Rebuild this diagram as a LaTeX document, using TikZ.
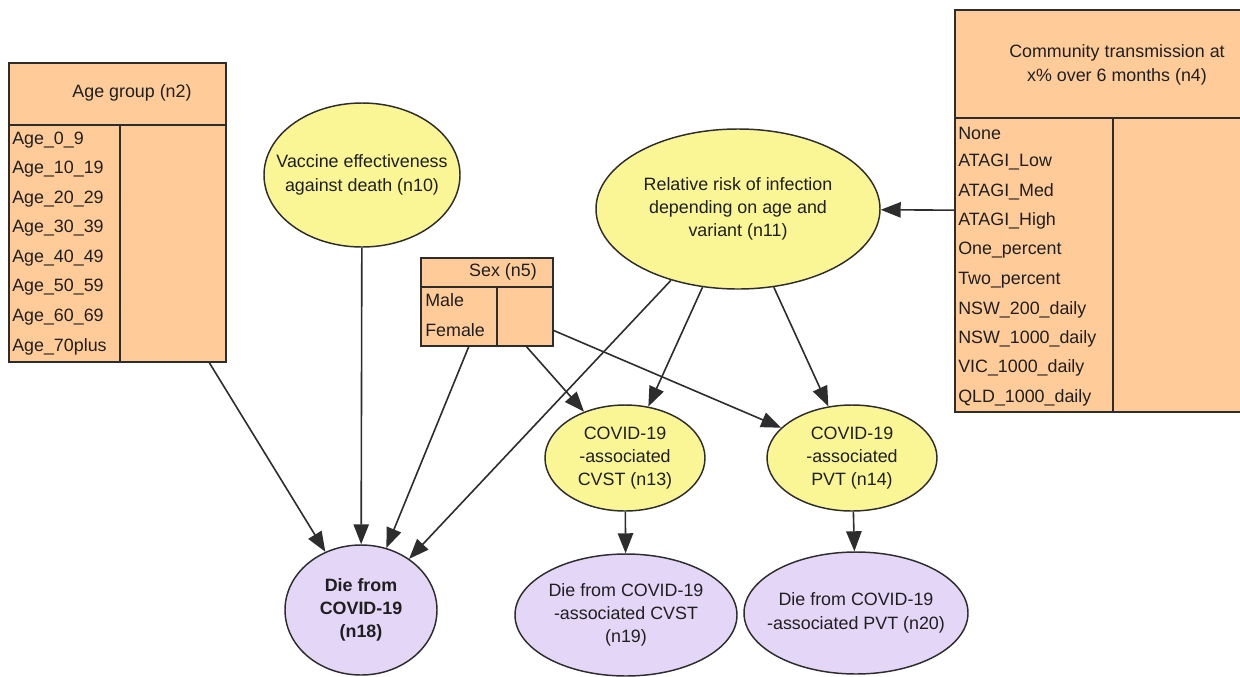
\documentclass[tikz,border=0pt]{standalone}
\usepackage{fontspec}
\setmainfont{Liberation Sans}
\usetikzlibrary{arrows.meta, shapes.geometric, positioning}
\definecolor{boxtan}{RGB}{255,204,153}
\definecolor{nodeyellow}{RGB}{250,246,150}
\definecolor{nodelilac}{RGB}{228,214,246}
\definecolor{edgegray}{RGB}{45,45,45}
\tikzset{
  every node/.style={font=\fontsize{13.4}{17.5}\selectfont, text=black!88},
  tablebox/.style={rectangle, draw=edgegray, line width=1.1pt, fill=boxtan, inner sep=0pt},
  rule/.style={draw=edgegray, line width=1.1pt},
  staterow/.style={anchor=west, inner sep=0pt},
  chance/.style={ellipse, draw=edgegray, line width=1.1pt, fill=nodeyellow, inner sep=0pt},
  outcome/.style={chance, fill=nodelilac},
  link/.style={-{Triangle[length=15pt,width=11.5pt]}, draw=edgegray, line width=1.2pt},
}

\begin{document}
\begin{tikzpicture}[x=0.75pt, y=-0.75pt]
  \useasboundingbox (0,0) rectangle (1240,676);
  \clip (0,0) rectangle (1240,676);
  \fill[white] (0,0) rectangle (1240,676);

  % tables
  \node[tablebox, minimum width=162.75pt, minimum height=224.25pt] (n2) at (117.5,212.5) {};
  \draw[rule] (n2.west |- 0,125) -- (n2.east |- 0,125);
  \draw[rule] (120,125) -- (n2.south -| 120,0);
  \node (n2title) at (132,93) {Age group (n2)};
  \foreach \s [count=\i from 0] in {Age\_0\_9, Age\_10\_19, Age\_20\_29, Age\_30\_39,
      Age\_40\_49, Age\_50\_59, Age\_60\_69, Age\_70plus}
    \node[staterow] (n2s\i) at (12,140+29.5*\i) {\s};

  \node[tablebox, minimum width=236.25pt, minimum height=301.5pt] (n4) at (1112.5,211) {};
  \draw[rule] (n4.west |- 0,118) -- (n4.east |- 0,118);
  \draw[rule] (1113,118) -- (n4.south -| 1113,0);
  \node[align=center] (n4title) at (1117,65) {Community transmission at\\x\% over 6 months (n4)};
  \foreach \s [count=\i from 0] in {None, ATAGI\_Low, ATAGI\_Med, ATAGI\_High, One\_percent,
      Two\_percent, NSW\_200\_daily, NSW\_1000\_daily, VIC\_1000\_daily, QLD\_1000\_daily}
    \node[staterow] (n4s\i) at (958,133+29.4*\i) {\s};

  \node[tablebox, minimum width=99pt, minimum height=66pt] (n5) at (487,302) {};
  \draw[rule] (n5.west |- 0,287) -- (n5.east |- 0,287);
  \draw[rule] (497,287) -- (n5.south -| 497,0);
  \node (n5title) at (503,272) {Sex (n5)};
  \node[staterow] (n5s0) at (425,300) {Male};
  \node[staterow] (n5s1) at (425,330) {Female};

  % chance nodes
  \node[chance, minimum width=147pt, minimum height=108pt,
    label={[align=center]center:{Vaccine effectiveness\\against death (n10)}}] (n10) at (362,175) {};
  \node[chance, minimum width=213pt, minimum height=120pt,
    label={[align=center]center:{Relative risk of infection\\depending on age and\\variant (n11)}}] (n11) at (738,209) {};
  \node[chance, minimum width=120pt, minimum height=79.5pt,
    label={[align=center]center:{COVID-19\\-associated\\CVST (n13)}}] (n13) at (625,458) {};
  \node[chance, minimum width=127.5pt, minimum height=79.5pt,
    label={[align=center]center:{COVID-19\\-associated\\PVT (n14)}}] (n14) at (852,458) {};

  % outcomes
  \node[outcome, minimum width=114pt, minimum height=97.5pt,
    label={[align=center, font=\fontsize{13.4}{17.5}\selectfont\bfseries]center:{Die from\\COVID-19\\(n18)}}] (n18) at (361,610) {};
  \node[outcome, minimum width=166.5pt, minimum height=91.5pt,
    label={[align=center]center:{Die from COVID-19\\-associated CVST\\(n19)}}] (n19) at (626,615) {};
  \node[outcome, minimum width=168pt, minimum height=91.5pt,
    label={[align=center]center:{Die from COVID-19\\-associated PVT (n20)}}] (n20) at (856,613) {};

  % links
  \draw[link] (n2) -- (n18);
  \draw[link] (n10) -- (n18);
  \draw[link] (n5) -- (n18);
  \draw[link] (n11) -- (n18);
  \draw[link] (n5) -- (n13);
  \draw[link] (n5) -- (n14);
  \draw[link] (n11) -- (n13);
  \draw[link] (n11) -- (n14);
  \draw[link] (n4) -- (n11);
  \draw[link] (n13) -- (n19);
  \draw[link] (n14) -- (n20);
\end{tikzpicture}
\end{document}
